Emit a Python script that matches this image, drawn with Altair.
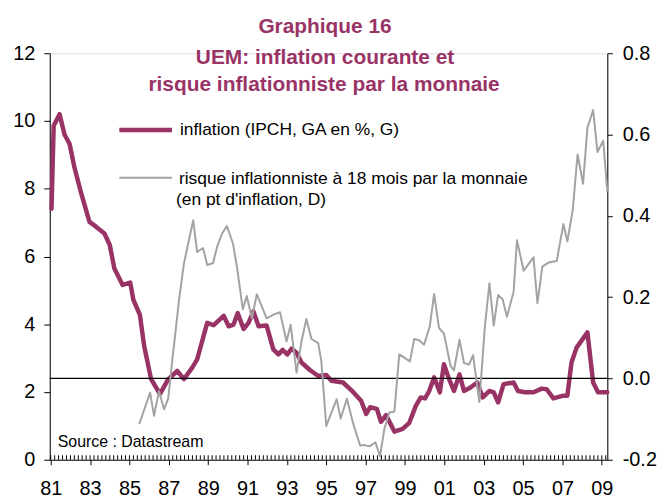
import altair as alt
import pandas as pd

# ---------------- data ----------------
years_infl = [1981.04, 1981.15, 1981.45, 1981.70, 1981.96, 1982.20, 1982.55, 1982.97,
              1983.30, 1983.73, 1984.00, 1984.23, 1984.65, 1985.04, 1985.20, 1985.53,
              1985.75, 1986.10, 1986.55, 1986.97, 1987.43, 1987.77, 1988.19, 1988.44,
              1988.95, 1989.28, 1989.79, 1990.04, 1990.29, 1990.50, 1990.80, 1991.05,
              1991.30, 1991.56, 1991.97, 1992.31, 1992.57, 1992.78, 1993.02, 1993.24,
              1993.49, 1993.74, 1994.17, 1994.59, 1995.00, 1995.26, 1995.85, 1996.35,
              1996.77, 1997.03, 1997.23, 1997.57, 1997.78, 1998.04, 1998.46, 1998.88,
              1999.22, 1999.55, 1999.80, 2000.02, 2000.23, 2000.48, 2000.77, 2000.98,
              2001.24, 2001.49, 2001.77, 2002.00, 2002.33, 2002.67, 2002.95, 2003.29,
              2003.51, 2003.73, 2004.01, 2004.52, 2004.74, 2005.11, 2005.53, 2005.95,
              2006.20, 2006.54, 2007.05, 2007.25, 2007.46, 2007.72, 2008.27, 2008.56,
              2008.81, 2009.28]
inflation = [7.41, 9.86, 10.20, 9.60, 9.32, 8.64, 7.86, 7.02,
             6.88, 6.68, 6.34, 5.65, 5.16, 5.23, 4.72, 4.28,
             3.35, 2.38, 1.94, 2.38, 2.62, 2.38, 2.72, 2.96,
             4.04, 3.97, 4.25, 3.94, 3.99, 4.33, 3.86, 4.04,
             4.38, 3.94, 3.96, 3.26, 3.11, 3.24, 3.11, 3.28,
             3.16, 2.87, 2.65, 2.47, 2.50, 2.33, 2.28, 2.01,
             1.74, 1.35, 1.55, 1.50, 1.12, 1.32, 0.83, 0.91,
             1.09, 1.59, 1.84, 1.81, 2.03, 2.43, 1.99, 2.82,
             2.38, 2.03, 2.52, 2.03, 2.13, 2.28, 1.84, 2.03,
             1.99, 1.69, 2.23, 2.28, 2.03, 1.99, 1.99, 2.10,
             2.08, 1.81, 1.89, 1.89, 2.87, 3.31, 3.76, 2.28,
             1.99, 1.99]

years_risk = [1985.50, 1986.05, 1986.25, 1986.50, 1986.76, 1986.97, 1987.18, 1987.52,
              1987.77, 1988.02, 1988.24, 1988.44, 1988.74, 1988.95, 1989.25, 1989.45,
              1989.70, 1989.95, 1990.26, 1990.46, 1990.76, 1990.96, 1991.22, 1991.47,
              1991.72, 1991.97, 1992.28, 1992.65, 1992.98, 1993.19, 1993.49, 1993.74,
              1993.99, 1994.25, 1994.59, 1994.75, 1995.00, 1995.53, 1995.73, 1996.05,
              1996.35, 1996.72, 1996.94, 1997.20, 1997.50, 1997.73, 1997.95, 1998.20,
              1998.46, 1998.71, 1999.00, 1999.25, 1999.47, 1999.72, 1999.97, 2000.26,
              2000.48, 2000.73, 2000.98, 2001.32, 2001.49, 2001.77, 2002.00, 2002.25,
              2002.46, 2002.78, 2003.06, 2003.29, 2003.51, 2003.73, 2003.96, 2004.18,
              2004.52, 2004.69, 2005.03, 2005.53, 2005.73, 2005.98, 2006.29, 2006.71,
              2007.05, 2007.25, 2007.52, 2007.77, 2008.05, 2008.27, 2008.56, 2008.78,
              2009.07, 2009.28]
risque = [-0.112, -0.035, -0.092, -0.031, -0.076, -0.049, 0.046, 0.193,
          0.283, 0.340, 0.389, 0.311, 0.321, 0.279, 0.284, 0.323,
          0.356, 0.375, 0.332, 0.275, 0.170, 0.203, 0.148, 0.207,
          0.178, 0.148, 0.156, 0.163, 0.091, 0.132, 0.014, 0.091,
          0.146, 0.097, 0.087, 0.042, -0.117, -0.051, -0.099, -0.050,
          -0.108, -0.165, -0.164, -0.167, -0.157, -0.192, -0.125, -0.084,
          -0.082, 0.059, 0.050, 0.042, 0.097, 0.094, 0.083, 0.128,
          0.208, 0.124, 0.110, 0.030, 0.020, 0.095, 0.038, 0.034,
          0.057, -0.058, 0.128, 0.234, 0.130, 0.205, 0.195, 0.152,
          0.213, 0.340, 0.265, 0.298, 0.185, 0.275, 0.285, 0.289,
          0.380, 0.337, 0.413, 0.551, 0.479, 0.617, 0.660, 0.557,
          0.585, 0.460]

x_ticks = list(range(1981, 2010, 2))
left_ticks = [0, 2, 4, 6, 8, 10, 12]
right_ticks = [-0.2, 0.0, 0.2, 0.4, 0.6, 0.8]

title_lines = ["Graphique 16",
               "UEM: inflation courante et",
               "risque inflationniste par la monnaie"]
legend_infl = "inflation (IPCH, GA en %, G)"
legend_risk_1 = "risque inflationniste à 18 mois par la monnaie"
legend_risk_2 = "(en pt d'inflation, D)"
source_txt = "Source : Datastream"

# ---------------- styling ----------------
PLUM = "#993366"
GREY = "#A3A3A3"
FONT = "Liberation Sans"
W, H = 561, 409

df_i = pd.DataFrame({"annee": years_infl, "inflation": inflation})
df_r = pd.DataFrame({"annee": years_risk, "risque": risque})
one = pd.DataFrame({"k": [0]})
zero_df = pd.DataFrame({"r": [0.0]})

x_scale = alt.Scale(domain=[1980.95, 2009.28], nice=False, zero=False)

x_axis = alt.Axis(values=x_ticks, labelExpr="format(datum.value % 100, '02d')",
                  tickSize=5, labelPadding=14, labelFontSize=20, labelFont=FONT,
                  labelColor="black", domainColor="black", tickColor="black",
                  grid=False, labelFlush=False, labelOverlap=False, title=None)

left_axis = alt.Axis(orient="left", values=left_ticks, tickSize=6, labelPadding=9,
                     labelFontSize=20, labelFont=FONT, labelColor="black",
                     domainColor="black", tickColor="black", grid=False, title=None)

right_axis = alt.Axis(orient="right", values=right_ticks,
                      labelExpr="replace(format(datum.value, '.1f'), '\u2212', '-')",
                      tickSize=5, labelPadding=10, labelFontSize=20, labelFont=FONT,
                      labelColor="black", domainColor="black", tickColor="black",
                      grid=False, title=None)

infl_line = alt.Chart(df_i).mark_line(color=PLUM, strokeWidth=4.5,
                                      strokeJoin="round", strokeCap="round").encode(
    x=alt.X("annee:Q", scale=x_scale, axis=x_axis),
    y=alt.Y("inflation:Q", scale=alt.Scale(domain=[0, 12], nice=False, zero=False),
            axis=left_axis))

minor_ticks = alt.Chart(alt.sequence(1981, 2009.3, 0.2, as_="t")).mark_rule(
    color="black", strokeWidth=1).encode(
    x=alt.X("t:Q", scale=x_scale, axis=x_axis),
    y=alt.value(H - 4.5), y2=alt.value(H))

zero_rule = alt.Chart(zero_df).mark_rule(color="black", strokeWidth=1.2).encode(
    y=alt.Y("r:Q", scale=alt.Scale(domain=[-0.2, 0.8], nice=False, zero=False), axis=None))

risk_line = alt.Chart(df_r).mark_line(color=GREY, strokeWidth=2,
                                      strokeJoin="round").encode(
    x=alt.X("annee:Q", scale=x_scale, axis=x_axis),
    y=alt.Y("risque:Q", scale=alt.Scale(domain=[-0.2, 0.8], nice=False, zero=False),
            axis=right_axis))


def txt(s, x, y, size, bold=False, color="black", align="left"):
    return alt.Chart(one).mark_text(text=s, font=FONT, fontSize=size,
                                    fontWeight="bold" if bold else "normal",
                                    color=color, align=align,
                                    baseline="alphabetic").encode(
        x=alt.value(x), y=alt.value(y))


def seg(x1, x2, y, color, width):
    return alt.Chart(one).mark_rule(color=color, strokeWidth=width).encode(
        x=alt.value(x1), x2=alt.value(x2), y=alt.value(y))


titles = [txt(title_lines[0], 277, -20, 21, True, PLUM, "center"),
          txt(title_lines[1], 277, 11, 21, True, PLUM, "center"),
          txt(title_lines[2], 276, 38, 21, True, PLUM, "center")]

legend = [seg(70, 123, 77.3, PLUM, 4.5),
          txt(legend_infl, 131, 82.5, 17.5),
          seg(70, 123, 125.3, GREY, 2),
          txt(legend_risk_1, 130, 131.5, 17.5),
          txt(legend_risk_2, 127, 153, 17.5)]

source = txt(source_txt, 8, 396, 16)

chart = alt.layer(
    infl_line, minor_ticks, zero_rule, risk_line, *titles, *legend, source
).resolve_scale(y="independent").properties(
    width=W, height=H,
    padding={"left": 42, "top": 44, "right": 50, "bottom": 38},
    autosize=alt.AutoSizeParams(type="none"),
).configure_view(stroke="transparent").configure(background="white")

chart.save("out.html", embed_options={"renderer": "svg", "actions": False})
